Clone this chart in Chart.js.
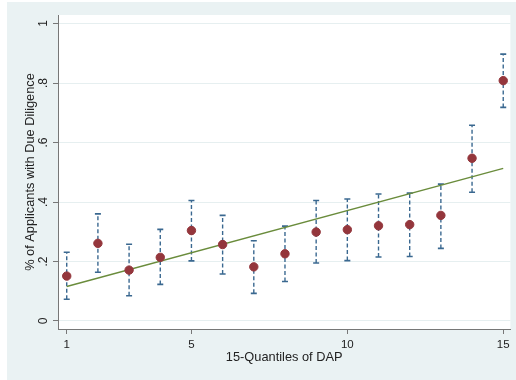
<!DOCTYPE html>
<html>
<head>
<meta charset="utf-8">
<script src="https://cdn.jsdelivr.net/npm/chart.js@4"></script>
<style>
  html, body { margin: 0; padding: 0; background: #fff; }
  #wrap { width: 516px; height: 380px; }
</style>
</head>
<body>
<div id="wrap"><canvas id="dap"></canvas></div>
<script>
// quantile bins of DAP and share of applicants with due diligence
const quantiles = [1, 2, 3, 4, 5, 6, 7, 8, 9, 10, 11, 12, 13, 14, 15];
const share = [0.151, 0.261, 0.171, 0.214, 0.304, 0.257, 0.182, 0.226, 0.299, 0.307, 0.320, 0.324, 0.355, 0.547, 0.808];
const ciLow = [0.073, 0.164, 0.085, 0.123, 0.202, 0.158, 0.093, 0.133, 0.195, 0.203, 0.215, 0.217, 0.244, 0.433, 0.718];
const ciHigh = [0.231, 0.360, 0.258, 0.308, 0.405, 0.355, 0.270, 0.319, 0.405, 0.410, 0.427, 0.430, 0.460, 0.658, 0.897];
// linear fit, value at first and last quantile
const fitX = [1, 15];
const fitY = [0.116, 0.513];
const xTicks = [1, 5, 10, 15];
const yTicks = [0, 0.2, 0.4, 0.6, 0.8, 1];

const FONT = '"Liberation Sans", Arial, sans-serif';
const BG = '#eaf2f3';
const CI_COLOR = '#3a6890';

const errorBars = quantiles.map(function (q, i) {
    return {
        type: 'line',
        data: [{ x: q, y: ciLow[i] }, { x: q, y: ciHigh[i] }],
        borderColor: CI_COLOR,
        borderWidth: 1.4,
        borderDash: [4, 2.5],
        pointStyle: 'line',
        pointRadius: 3,
        pointBorderWidth: 1.6,
        pointBorderColor: CI_COLOR,
        order: 3
    };
});

const fitLine = {
    type: 'line',
    data: fitX.map(function (x, i) { return { x: x, y: fitY[i] }; }),
    borderColor: '#6a8c3c',
    borderWidth: 1.4,
    pointRadius: 0,
    order: 2
};

const markers = {
    type: 'scatter',
    data: quantiles.map(function (q, i) { return { x: q, y: share[i] }; }),
    backgroundColor: '#94363c',
    borderColor: '#94363c',
    pointRadius: 4.2,
    order: 1
};

// grey outer region, white plot region, rotated y labels
const backdrop = {
    id: 'backdrop',
    beforeDraw: function (chart) {
        const c = chart.ctx, a = chart.chartArea;
        c.save();
        c.fillStyle = '#fff';
        c.fillRect(0, 0, chart.width, chart.height);
        c.fillStyle = BG;
        c.fillRect(7, 2, chart.width - 7, chart.height - 2);
        c.fillStyle = '#fff';
        c.fillRect(a.left, a.top, a.right - a.left, a.bottom - a.top);
        c.restore();
    },
    afterDraw: function (chart) {
        const c = chart.ctx, y = chart.scales.y;
        c.save();
        c.font = '12px ' + FONT;
        c.fillStyle = '#222';
        c.textAlign = 'center';
        c.textBaseline = 'middle';
        yTicks.forEach(function (v) {
            const py = y.getPixelForValue(v);
            c.save();
            c.translate(44, py);
            c.rotate(-Math.PI / 2);
            c.fillText(v === 0 ? '0' : v === 1 ? '1' : String(v).replace('0.', '.'), 0, 0);
            c.restore();
        });
        c.restore();
    }
};

new Chart(document.getElementById('dap'), {
    data: { datasets: errorBars.concat([fitLine, markers]) },
    options: {
        responsive: true,
        maintainAspectRatio: false,
        animation: false,
        layout: { padding: { left: 7, top: 15, right: 3, bottom: 0 } },
        plugins: { legend: { display: false }, tooltip: { enabled: false } },
        scales: {
            x: {
                type: 'linear',
                min: 0.72,
                max: 15.23,
                afterBuildTicks: function (s) { s.ticks = xTicks.map(function (v) { return { value: v }; }); },
                afterFit: function (s) { s.height = 51; },
                grid: { drawOnChartArea: false, tickLength: 5, tickColor: '#777' },
                border: { color: '#777', width: 1 },
                ticks: { color: '#222', font: { family: FONT, size: 11.5 }, padding: 4, maxRotation: 0 },
                title: { display: true, text: '15-Quantiles of DAP', color: '#222',
                         font: { family: FONT, size: 12.8 }, padding: { top: 0, bottom: 15 } }
            },
            y: {
                type: 'linear',
                min: -0.0269,
                max: 1.0286,
                afterBuildTicks: function (s) { s.ticks = yTicks.map(function (v) { return { value: v }; }); },
                afterFit: function (s) { s.width = 51; },
                grid: { color: '#e6eff0', lineWidth: 1, tickLength: 5, tickColor: '#777' },
                border: { color: '#777', width: 1 },
                ticks: { display: false },
                title: { display: true, text: '% of Applicants with Due Diligence', color: '#222',
                         font: { family: FONT, size: 12.8 }, padding: { top: 16, bottom: 0 } }
            }
        }
    },
    plugins: [backdrop]
});
</script>
</body>
</html>
